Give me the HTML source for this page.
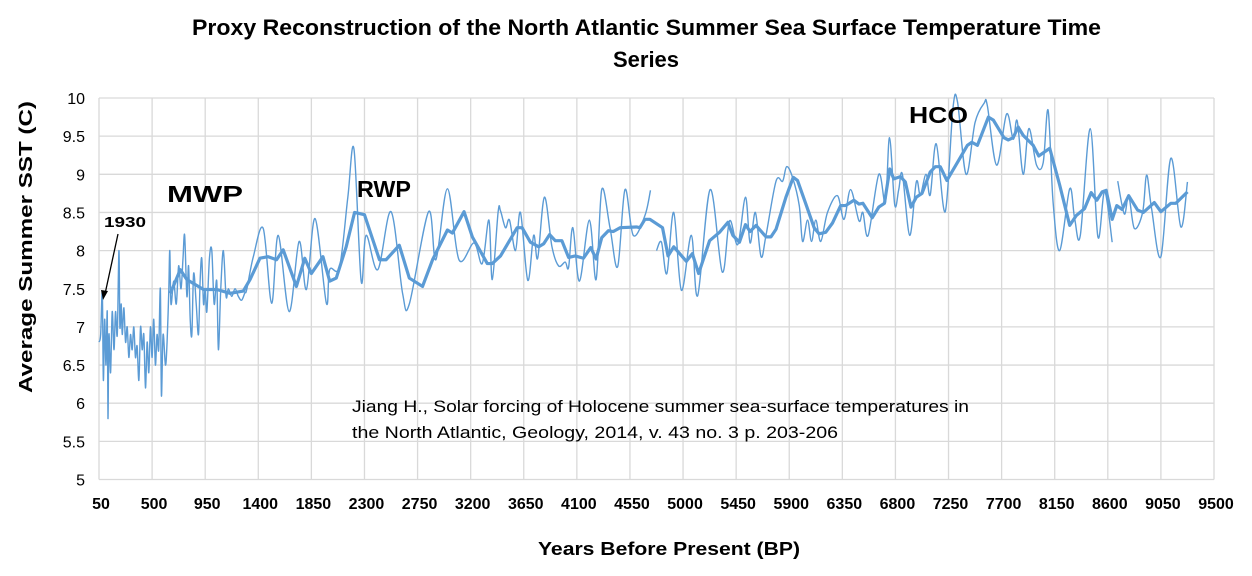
<!DOCTYPE html>
<html><head><meta charset="utf-8"><style>
body{margin:0;background:#fff;}
svg{display:block;font-family:"Liberation Sans",sans-serif;}
</style></head><body>
<svg id="chart" width="1252" height="576">
<text x="192" y="35" font-size="22" font-weight="bold" textLength="909" lengthAdjust="spacingAndGlyphs">Proxy Reconstruction of the North Atlantic Summer Sea Surface Temperature Time</text>
<text x="646" y="67" text-anchor="middle" font-size="22" font-weight="bold">Series</text>
<g id="grid"></g><g id="yt"></g><g id="xt"></g><g id="series"></g>
<text transform="translate(32,247) rotate(-90)" x="-146" y="0" font-size="18" font-weight="bold" textLength="292" lengthAdjust="spacingAndGlyphs">Average Summer SST (C)</text>
<text x="538" y="555" font-size="18" font-weight="bold" textLength="262" lengthAdjust="spacingAndGlyphs">Years Before Present (BP)</text>
<text x="104" y="227" font-size="15" font-weight="bold" textLength="42" lengthAdjust="spacingAndGlyphs">1930</text>
<line x1="118" y1="234" x2="105" y2="294" stroke="#000" stroke-width="1.3"/>
<polygon points="103,300 101,290 108,291" fill="#000"/>
<text x="167" y="202" font-size="23" font-weight="bold" textLength="76" lengthAdjust="spacingAndGlyphs">MWP</text>
<text x="357" y="197" font-size="23" font-weight="bold" textLength="54" lengthAdjust="spacingAndGlyphs">RWP</text>
<text x="909" y="123" font-size="23" font-weight="bold" textLength="59" lengthAdjust="spacingAndGlyphs">HCO</text>
<text x="352" y="412" font-size="17" textLength="617" lengthAdjust="spacingAndGlyphs">Jiang H., Solar forcing of Holocene summer sea-surface temperatures in</text>
<text x="352" y="438" font-size="17" textLength="486" lengthAdjust="spacingAndGlyphs">the North Atlantic, Geology, 2014, v. 43 no. 3 p. 203-206</text>
</svg>
<script>
const yTicks=[5,5.5,6,6.5,7,7.5,8,8.5,9,9.5,10];
const xTicks=[50,500,950,1400,1850,2300,2750,3200,3650,4100,4550,5000,5450,5900,6350,6800,7250,7700,8150,8600,9050,9500];
const rawYears=[50,64,78,87,98,109,120,126,134,148,162,177,190,205,219,227,238,247,261,275,289,303,317,331,345,359,373,388,402,416,430,444,458,472,486,500,514,528,542,556,570,579,593,613,627,641,650,660,683,705,725,745,762,776,795,809,823,837,852,874,893,907,921,936,950,964,986,1006,1026,1048,1062,1082,1104,1127,1146,1175,1203,1231,1259,1287,
1302,1358,1442,1513,1569,1662,1746,1808,1881,1977,2005,2089,2159,2211,2272,2314,2413,2525,2623,2680,2843,2905,3003,3101,3228,3298,3355,3383,3433,3453,3495,3529,3580,3622,3684,3734,3768,3825,3889,3945,4001,4030,4066,4122,4206,4263,4311,4381,4446,4508,4578,4677,4724,
4740,4775,4817,4863,4921,4986,5070,5124,5230,5332,5394,5464,5529,5568,5613,5661,5703,5788,5844,5878,5928,5985,6013,6055,6089,6125,6167,6224,6308,6364,6420,6491,6524,6569,6659,6715,6750,6794,6828,6859,6921,6977,7011,7059,7095,7146,7222,7287,7326,7399,7475,7551,7579,7658,7742,7798,7832,7883,7931,7996,8052,8094,8136,8192,8277,8319,8367,8451,8516,8573,8637,
8650,8684,8740,8777,8825,8895,8929,8971,9050,9134,9219,9275];
const rawValues=[6.8,6.9,7.45,6.3,7.1,6.5,7.2,5.8,6.9,6.4,7.2,6.7,7.2,6.9,8.0,7.0,7.3,6.9,7.25,6.8,7.0,6.6,6.9,6.7,7.0,6.6,6.75,6.3,7.0,6.7,6.9,6.2,6.8,6.4,7.0,6.6,7.1,6.5,6.9,6.7,7.5,6.1,6.9,6.5,6.8,7.45,8.0,7.3,7.6,7.3,7.8,7.5,7.9,8.2,7.4,7.8,7.1,6.9,7.7,7.3,6.9,7.6,7.9,7.3,7.5,7.2,7.9,8.0,7.3,7.6,6.7,7.5,8.0,7.4,7.5,7.4,7.5,7.4,7.35,7.45,
7.49,7.92,8.29,7.31,8.2,7.2,8.12,7.49,8.42,7.31,7.75,7.79,8.7,9.33,7.6,8.2,7.75,8.51,7.44,7.3,8.51,7.88,8.81,7.88,8.1,7.83,8.4,7.62,8.51,8.52,8.3,8.4,8.0,8.5,7.61,8.2,7.9,8.7,8.05,7.8,7.85,7.78,8.3,7.6,8.4,7.62,8.8,8.3,7.79,8.8,8.2,8.46,8.79,
null,8.0,8.11,7.7,8.5,7.48,8.2,7.41,8.8,7.72,8.39,8.08,8.7,8.1,8.5,7.92,8.2,8.91,8.91,9.1,8.96,8.59,8.12,8.4,8.12,8.4,8.12,8.5,8.72,8.41,8.8,8.39,8.5,8.2,9.0,8.63,9.48,8.6,8.8,9.0,8.2,8.9,8.73,9.0,8.73,9.4,8.51,9.86,9.95,9.0,9.68,9.93,9.9,9.12,9.79,9.46,9.7,9.0,9.6,9.12,9.15,9.84,8.64,8.0,8.81,8.42,8.2,9.6,8.18,8.77,8.11,
null,8.91,8.48,8.72,8.29,8.5,8.99,8.55,7.92,9.21,8.31,8.9];
const smYears=[655,739,795,936,1048,1161,1273,1330,1414,1484,1555,1611,1723,1794,1850,1948,2005,2061,2145,2216,2300,2427,2483,2595,2680,2792,2877,3003,3045,3144,3214,3341,3383,3453,3594,3636,3706,3777,3819,3869,3917,3973,4030,4086,4156,4218,4263,4311,4367,4409,4466,4606,4634,4677,4719,4826,4873,4921,5028,5079,5132,5225,5309,5380,5422,5478,5529,5568,5619,5703,5745,5788,5872,5934,5970,6041,6111,6153,6209,6266,6336,6378,6448,6491,6524,6603,6659,6707,6752,6786,6842,6884,6932,6977,7025,7095,7138,7180,7236,7320,7410,7447,7495,7588,7630,7720,7756,7798,7840,7883,7967,8015,8108,8192,8277,8333,8403,8459,8507,8552,8586,8637,8676,8721,8777,8853,8901,8994,9050,9134,9177,9275];
const smValues=[7.44,7.75,7.62,7.49,7.49,7.44,7.47,7.62,7.9,7.92,7.88,8.01,7.53,7.9,7.7,7.92,7.6,7.64,8.05,8.5,8.47,7.88,7.88,8.07,7.64,7.53,7.88,8.27,8.23,8.51,8.18,7.83,7.83,7.93,8.3,8.3,8.11,8.05,8.09,8.21,8.13,8.13,7.91,7.93,7.9,8.04,7.89,8.17,8.26,8.25,8.3,8.31,8.3,8.41,8.41,8.3,7.93,8.05,7.86,7.96,7.7,8.13,8.24,8.37,8.2,8.11,8.34,8.25,8.33,8.18,8.18,8.28,8.7,8.96,8.92,8.61,8.3,8.22,8.24,8.36,8.59,8.59,8.66,8.61,8.62,8.43,8.57,8.62,9.07,8.94,8.97,8.9,8.57,8.7,8.75,9.03,9.1,9.1,8.92,9.14,9.38,9.42,9.38,9.75,9.71,9.48,9.45,9.48,9.62,9.51,9.38,9.24,9.34,8.86,8.33,8.46,8.55,8.76,8.66,8.77,8.79,8.41,8.59,8.54,8.72,8.53,8.5,8.63,8.51,8.62,8.62,8.77];

const NS='http://www.w3.org/2000/svg';
const X0=99,X1=1214,Y0=479.5,Y1=98;
const xs=v=>X0+(v-50)/(9500-50)*(X1-X0);
const ys=v=>Y0-(v-5)/(10-5)*(Y0-Y1);
function mk(t,a,p){const e=document.createElementNS(NS,t);for(const k in a)e.setAttribute(k,a[k]);p.appendChild(e);return e;}
const grid=document.getElementById('grid'),yt=document.getElementById('yt'),xt=document.getElementById('xt'),ser=document.getElementById('series');
yTicks.forEach(v=>{
 const l=mk('line',{x1:X0,x2:X1,y1:ys(v),y2:ys(v),stroke:'#d9d9d9','stroke-width':1.3},grid);
 
 
 const t=mk('text',{x:85,y:ys(v)+6,'text-anchor':'end','font-size':16},yt);t.textContent=v;
 
 
});
xTicks.forEach(v=>{
 const l=mk('line',{x1:xs(v),x2:xs(v),y1:Y1,y2:Y0,stroke:'#d9d9d9','stroke-width':1.3},grid);
 
 
 const t=mk('text',{x:xs(v)+2,y:509,'text-anchor':'middle','font-size':16,'font-weight':'bold'},xt);t.textContent=v;
 
 
});
function segs(xa,va){const out=[];let cur=[];xa.forEach((x,i)=>{if(va[i]==null){if(cur.length)out.push(cur);cur=[];}else cur.push([xs(x),ys(va[i])]);});if(cur.length)out.push(cur);return out;}
function smooth(p){let d='M'+p[0][0]+','+p[0][1];for(let i=0;i<p.length-1;i++){const a=p[i-1]||p[i],b=p[i],c=p[i+1],e=p[i+2]||c;
 d+=' C'+(b[0]+(c[0]-a[0])/6)+','+(b[1]+(c[1]-a[1])/6)+' '+(c[0]-(e[0]-b[0])/6)+','+(c[1]-(e[1]-b[1])/6)+' '+c[0]+','+c[1];}return d;}
segs(rawYears,rawValues).forEach(p=>{
 const e=mk('path',{d:smooth(p),fill:'none',stroke:'#5b9bd5','stroke-width':1.4,'stroke-linejoin':'round'},ser);
 
 
});
const sp=segs(smYears,smValues)[0];
const s=mk('path',{d:'M'+sp.map(q=>q.join(',')).join(' L'),fill:'none',stroke:'#5b9bd5','stroke-width':3.2,'stroke-linejoin':'round'},ser);


</script>
</body></html>
